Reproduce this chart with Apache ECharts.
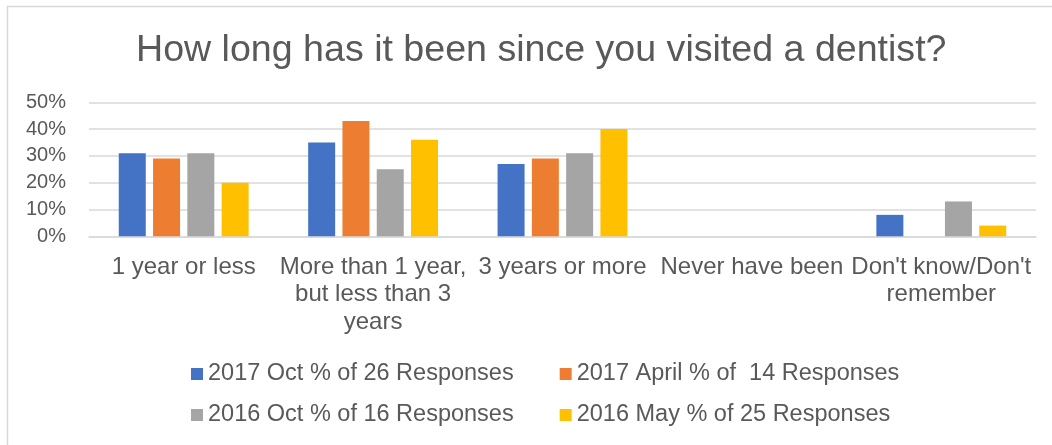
<!DOCTYPE html>
<html>
<head>
<meta charset="utf-8">
<script src="https://cdn.jsdelivr.net/npm/echarts@6/dist/echarts.min.js"></script>
<style>
  html, body { margin: 0; padding: 0; background: #ffffff; }
  #chart { width: 1052px; height: 445px; }
</style>
</head>
<body>
<div id="chart"></div>
<script>
// ---- data ----
var categories = [
  "1 year or less",
  "More than 1 year, but less than 3 years",
  "3 years or more",
  "Never have been",
  "Don't know/Don't remember"
];
var categoryLabels = [
  "1 year or less",
  "More than 1 year,\nbut less than 3\nyears",
  "3 years or more",
  "Never have been",
  "Don't know/Don't\nremember"
];
var seriesNames = [
  "2017 Oct % of 26 Responses",
  "2017 April % of  14 Responses",
  "2016 Oct % of 16 Responses",
  "2016 May % of 25 Responses"
];
var oct2017 = [31, 35, 27, 0, 8];
var apr2017 = [29, 43, 29, 0, 0];
var oct2016 = [31, 25, 31, 0, 13];
var may2016 = [20, 36, 40, 0, 4];
var yTicks = [0, 10, 20, 30, 40, 50];

var colors = ["#4472C4", "#ED7D31", "#A5A5A5", "#FFC000"];
var values = [oct2017, apr2017, oct2016, may2016];
var textColor = "#595959";
var fontFamily = "'Liberation Sans', Arial, sans-serif";

var series = seriesNames.map(function (name, i) {
  return {
    name: name,
    type: "bar",
    data: values[i],
    barWidth: 27,
    barGap: "27%",
    itemStyle: { color: colors[i] },
    emphasis: { disabled: true }
  };
});

var legendText = { color: textColor, fontSize: 23.5, fontFamily: fontFamily };

var chart = echarts.init(document.getElementById("chart"), null, { renderer: "canvas" });
chart.setOption({
  animation: false,
  color: colors,
  textStyle: { fontFamily: fontFamily },
  graphic: [{
    type: "rect",
    silent: true,
    shape: { x: 7.5, y: 6.5, width: 1200, height: 1000 },
    style: { fill: "none", stroke: "#d9d9d9", lineWidth: 1.5 }
  }],
  title: {
    text: "How long has it been since you visited a dentist?",
    left: 131,
    top: 27,
    textStyle: { color: textColor, fontSize: 37.6, fontWeight: "normal", fontFamily: fontFamily }
  },
  legend: [{
    data: [seriesNames[0], seriesNames[1]],
    left: 186,
    top: 357,
    itemWidth: 12,
    itemHeight: 12,
    itemGap: 46,
    icon: "rect",
    textStyle: legendText
  }, {
    data: [seriesNames[2], seriesNames[3]],
    left: 186,
    top: 398,
    itemWidth: 12,
    itemHeight: 12,
    itemGap: 46,
    icon: "rect",
    textStyle: legendText
  }],
  grid: { left: 89, right: 16, top: 102.3, bottom: 208.7, containLabel: false },
  xAxis: {
    type: "category",
    data: categories,
    axisLine: { lineStyle: { color: "#d9d9d9", width: 1.5 } },
    axisTick: { show: false },
    axisLabel: {
      interval: 0,
      color: textColor,
      fontSize: 24,
      lineHeight: 27.5,
      margin: 17,
      fontFamily: fontFamily,
      formatter: function (v, idx) { return categoryLabels[idx]; }
    }
  },
  yAxis: {
    type: "value",
    min: yTicks[0],
    max: yTicks[yTicks.length - 1],
    interval: yTicks[1] - yTicks[0],
    axisLine: { show: false },
    axisTick: { show: false },
    splitLine: { lineStyle: { color: "#d9d9d9", width: 1.5 } },
    axisLabel: {
      color: textColor,
      fontSize: 20,
      margin: 23,
      fontFamily: fontFamily,
      formatter: "{value}%"
    }
  },
  series: series
});
</script>
</body>
</html>
